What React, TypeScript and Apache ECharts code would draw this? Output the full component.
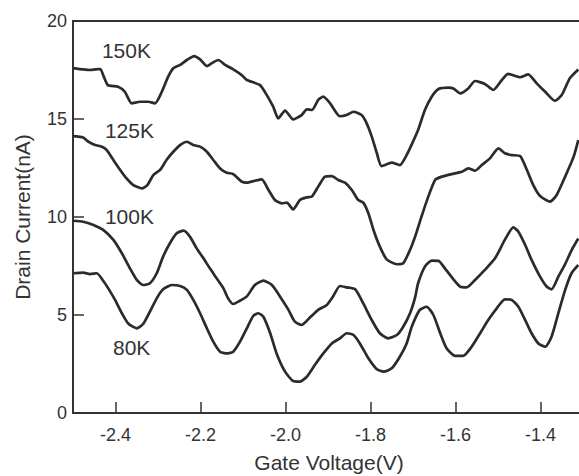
import React, { useEffect, useRef } from "react";
import * as echarts from "echarts";

const xTickMin = -2.4;
const xTickMax = -1.4;
const xTickStep = 0.2;
const yTickStep = 5;

const k150: number[][] = [
  [-2.5, 17.6], [-2.476, 17.53], [-2.46, 17.5], [-2.436, 17.55], [-2.429, 17.24], [-2.418, 16.73],
  [-2.394, 16.65], [-2.378, 16.39], [-2.362, 15.8], [-2.342, 15.88], [-2.323, 15.88], [-2.307, 15.8],
  [-2.291, 16.39], [-2.276, 17.16], [-2.264, 17.59], [-2.248, 17.76], [-2.232, 18.01], [-2.215, 18.21],
  [-2.201, 18.04], [-2.185, 17.7], [-2.174, 17.84], [-2.158, 18.01], [-2.142, 17.76], [-2.123, 17.53],
  [-2.103, 17.24], [-2.091, 16.99], [-2.06, 16.73], [-2.044, 16.22], [-2.029, 15.63], [-2.017, 15.03],
  [-2.001, 15.43], [-1.982, 14.98], [-1.962, 15.2], [-1.95, 15.49], [-1.938, 15.46], [-1.923, 15.97],
  [-1.911, 16.14], [-1.895, 15.8], [-1.872, 15.14], [-1.856, 15.2], [-1.84, 15.37], [-1.821, 15.2],
  [-1.809, 14.78], [-1.797, 14.1], [-1.785, 13.25], [-1.774, 12.6], [-1.75, 12.77], [-1.731, 12.65],
  [-1.715, 13.16], [-1.701, 13.8], [-1.688, 14.44], [-1.672, 15.46], [-1.656, 16.14], [-1.64, 16.53],
  [-1.617, 16.6], [-1.605, 16.56], [-1.589, 16.31], [-1.57, 16.56], [-1.554, 16.94], [-1.531, 16.79],
  [-1.511, 16.48], [-1.491, 16.99], [-1.476, 17.3], [-1.448, 17.13], [-1.429, 17.28], [-1.409, 16.82],
  [-1.389, 16.39], [-1.366, 15.93], [-1.35, 16.22], [-1.331, 17.08], [-1.311, 17.53],
];

const k125: number[][] = [
  [-2.5, 14.13], [-2.476, 14.06], [-2.464, 13.84], [-2.448, 13.67], [-2.432, 13.59], [-2.421, 13.42],
  [-2.405, 12.91], [-2.389, 12.4], [-2.374, 11.97], [-2.358, 11.63], [-2.338, 11.46], [-2.325, 11.63],
  [-2.311, 12.14], [-2.295, 12.4], [-2.28, 12.91], [-2.264, 13.33], [-2.248, 13.67], [-2.232, 13.84],
  [-2.217, 13.67], [-2.201, 13.59], [-2.185, 13.33], [-2.17, 12.91], [-2.154, 12.48], [-2.138, 12.26],
  [-2.123, 12.19], [-2.103, 11.8], [-2.091, 11.75], [-2.072, 11.85], [-2.056, 11.92], [-2.04, 11.38],
  [-2.025, 10.87], [-2.009, 10.7], [-1.997, 10.73], [-1.982, 10.39], [-1.966, 10.87], [-1.95, 11.0],
  [-1.938, 11.04], [-1.923, 11.55], [-1.907, 12.06], [-1.891, 12.09], [-1.876, 11.89], [-1.86, 11.75],
  [-1.844, 11.38], [-1.829, 10.87], [-1.817, 10.73], [-1.805, 10.19], [-1.793, 9.34], [-1.778, 8.49],
  [-1.762, 7.84], [-1.738, 7.59], [-1.723, 7.64], [-1.707, 8.32], [-1.695, 9.0], [-1.68, 10.02],
  [-1.664, 11.04], [-1.648, 11.89], [-1.632, 12.06], [-1.609, 12.19], [-1.585, 12.31], [-1.57, 12.48],
  [-1.554, 12.36], [-1.538, 12.65], [-1.519, 12.99], [-1.499, 13.5], [-1.484, 13.25], [-1.468, 13.16],
  [-1.448, 13.11], [-1.432, 12.4], [-1.417, 11.63], [-1.401, 11.07], [-1.378, 10.78], [-1.362, 11.12],
  [-1.342, 12.06], [-1.322, 13.08], [-1.311, 13.93],
];

const k100: number[][] = [
  [-2.5, 9.81], [-2.476, 9.76], [-2.452, 9.59], [-2.429, 9.34], [-2.405, 8.83], [-2.385, 8.15],
  [-2.366, 7.38], [-2.35, 6.79], [-2.335, 6.53], [-2.319, 6.62], [-2.303, 7.13], [-2.288, 7.98],
  [-2.272, 8.66], [-2.256, 9.17], [-2.24, 9.3], [-2.225, 9.0], [-2.209, 8.4], [-2.193, 7.89],
  [-2.178, 7.38], [-2.162, 6.87], [-2.146, 6.36], [-2.135, 5.85], [-2.123, 5.56], [-2.111, 5.68],
  [-2.091, 5.95], [-2.072, 6.53], [-2.052, 6.75], [-2.032, 6.53], [-2.013, 5.95], [-1.993, 5.26],
  [-1.978, 4.66], [-1.962, 4.49], [-1.942, 4.88], [-1.923, 5.26], [-1.903, 5.51], [-1.888, 5.95],
  [-1.872, 6.48], [-1.856, 6.41], [-1.836, 6.31], [-1.817, 5.59], [-1.797, 4.74], [-1.778, 4.07],
  [-1.758, 3.81], [-1.738, 3.98], [-1.723, 4.4], [-1.707, 5.09], [-1.695, 5.9], [-1.688, 6.62],
  [-1.672, 7.47], [-1.656, 7.77], [-1.64, 7.76], [-1.625, 7.38], [-1.605, 6.82], [-1.589, 6.44],
  [-1.574, 6.41], [-1.554, 6.79], [-1.531, 7.3], [-1.507, 7.89], [-1.484, 8.83], [-1.464, 9.47],
  [-1.452, 9.25], [-1.436, 8.57], [-1.421, 7.81], [-1.401, 6.96], [-1.385, 6.44], [-1.374, 6.31],
  [-1.358, 6.96], [-1.342, 7.6], [-1.327, 8.3], [-1.311, 8.9],
];

const k80: number[][] = [
  [-2.5, 7.13], [-2.476, 7.16], [-2.46, 7.09], [-2.444, 7.13], [-2.429, 6.75], [-2.417, 6.36],
  [-2.401, 5.77], [-2.385, 5.09], [-2.37, 4.57], [-2.35, 4.32], [-2.335, 4.54], [-2.319, 5.17],
  [-2.303, 5.85], [-2.288, 6.31], [-2.268, 6.53], [-2.248, 6.48], [-2.232, 6.28], [-2.217, 5.77],
  [-2.201, 5.09], [-2.185, 4.32], [-2.17, 3.64], [-2.154, 3.13], [-2.138, 3.04], [-2.123, 3.13],
  [-2.107, 3.64], [-2.091, 4.32], [-2.076, 4.95], [-2.064, 5.09], [-2.052, 4.91], [-2.036, 4.07],
  [-2.021, 3.04], [-2.001, 2.11], [-1.982, 1.63], [-1.966, 1.6], [-1.95, 1.85], [-1.931, 2.45],
  [-1.911, 3.04], [-1.891, 3.55], [-1.872, 3.81], [-1.856, 4.07], [-1.84, 3.98], [-1.825, 3.55],
  [-1.805, 2.79], [-1.785, 2.23], [-1.769, 2.11], [-1.75, 2.28], [-1.731, 2.87], [-1.715, 3.55],
  [-1.703, 4.4], [-1.684, 5.26], [-1.668, 5.42], [-1.652, 5.0], [-1.636, 4.07], [-1.621, 3.3],
  [-1.601, 2.91], [-1.582, 2.91], [-1.562, 3.38], [-1.542, 4.07], [-1.523, 4.74], [-1.503, 5.34],
  [-1.484, 5.8], [-1.468, 5.77], [-1.452, 5.42], [-1.436, 4.74], [-1.421, 4.07], [-1.405, 3.55],
  [-1.389, 3.38], [-1.374, 3.89], [-1.358, 5.09], [-1.342, 6.28], [-1.327, 7.13], [-1.311, 7.55],
];

const curveNames = ["150K", "125K", "100K", "80K"];
const curveLabelX = [-2.432, -2.425, -2.425, -2.406];
const curveLabelY = [18.52, 14.39, 10.05, 3.32];

const FONT = "'Liberation Sans', Arial, sans-serif";
const INK = "#2b2b2b";
const AX = "#333333";

// layout (pixels)
const G_LEFT = 73;
const G_TOP = 21;
const G_H = 392;
const G_W = 506;
const PX_PER_V = 425;
const X_MIN = -2.5;
const Y_MIN = 0;
const Y_MAX = 20;

export default function App() {
  const ref = useRef<HTMLDivElement>(null);
  useEffect(() => {
    if (!ref.current) return;
    document.body.style.margin = "0";
    const chart = echarts.init(ref.current, undefined, { renderer: "svg" });
    const xMax = X_MIN + G_W / PX_PER_V;
    const lineSeries = [k150, k125, k100, k80].map((d, i) => ({
      type: "line",
      name: curveNames[i],
      xAxisIndex: 0,
      yAxisIndex: 0,
      data: d,
      showSymbol: false,
      symbol: "none",
      smooth: 0.2,
      lineStyle: { color: INK, width: 2.7 },
    }));
    chart.setOption({
      animation: false,
      grid: [
        { left: G_LEFT, top: G_TOP, width: G_W, height: G_H },
        {
          left: G_LEFT + (xTickMin - X_MIN) * PX_PER_V,
          top: G_TOP,
          width: (xTickMax - xTickMin) * PX_PER_V,
          height: G_H,
        },
      ],
      xAxis: [
        {
          type: "value",
          gridIndex: 0,
          position: "bottom",
          min: X_MIN,
          max: xMax,
          axisLine: { show: true, onZero: false, lineStyle: { color: AX, width: 2 } },
          axisTick: { show: false },
          axisLabel: { show: false },
          splitLine: { show: false },
        },
        {
          type: "value",
          gridIndex: 0,
          position: "top",
          min: X_MIN,
          max: xMax,
          axisLine: { show: true, onZero: false, lineStyle: { color: AX, width: 2 } },
          axisTick: { show: false },
          axisLabel: { show: false },
          splitLine: { show: false },
        },
        {
          type: "value",
          gridIndex: 1,
          position: "bottom",
          min: xTickMin,
          max: xTickMax,
          interval: xTickStep,
          axisLine: { show: false, onZero: false },
          axisTick: { show: true, inside: true, length: 11, lineStyle: { color: AX, width: 1.5 } },
          axisLabel: {
            fontSize: 18,
            color: AX,
            margin: 13,
            fontFamily: FONT,
            formatter: (v: number) => v.toFixed(1),
          },
          splitLine: { show: false },
        },
      ],
      yAxis: [
        {
          type: "value",
          gridIndex: 0,
          min: Y_MIN,
          max: Y_MAX,
          interval: yTickStep,
          axisLine: { show: true, onZero: false, lineStyle: { color: AX, width: 2 } },
          axisTick: { show: true, inside: true, length: 11, lineStyle: { color: AX, width: 1.5 } },
          axisLabel: { fontSize: 18, color: AX, margin: 6, fontFamily: FONT },
          splitLine: { show: false },
        },
        { type: "value", gridIndex: 1, min: Y_MIN, max: Y_MAX, show: false },
      ],
      series: lineSeries,
    });
    const toPx = (x: number, y: number) =>
      chart.convertToPixel({ xAxisIndex: 0, yAxisIndex: 0 }, [x, y]) as number[];
    const labelTexts = curveNames.map((n, i) => {
      const p = toPx(curveLabelX[i], curveLabelY[i]);
      return {
        type: "text",
        x: p[0],
        y: p[1],
        z: 10,
        style: { text: n, fontSize: 21, fontFamily: FONT, fill: AX, align: "left", verticalAlign: "middle" },
      };
    });
    const bl = toPx(X_MIN, Y_MIN);
    const tl = toPx(X_MIN, Y_MAX);
    chart.setOption({
      graphic: [
        ...labelTexts,
        {
          type: "text",
          x: G_LEFT + G_W / 2 + 3,
          y: bl[1] + 49,
          z: 10,
          style: { text: "Gate Voltage(V)", fontSize: 21, fontFamily: FONT, fill: AX, align: "center", verticalAlign: "middle" },
        },
        {
          type: "text",
          x: 22,
          y: (tl[1] + bl[1]) / 2,
          rotation: Math.PI / 2,
          z: 10,
          style: { text: "Drain Current(nA)", fontSize: 21, fontFamily: FONT, fill: AX, align: "center", verticalAlign: "middle" },
        },
      ],
    });
    return () => chart.dispose();
  }, []);
  return <div ref={ref} style={{ width: 579, height: 476 }} />;
}
